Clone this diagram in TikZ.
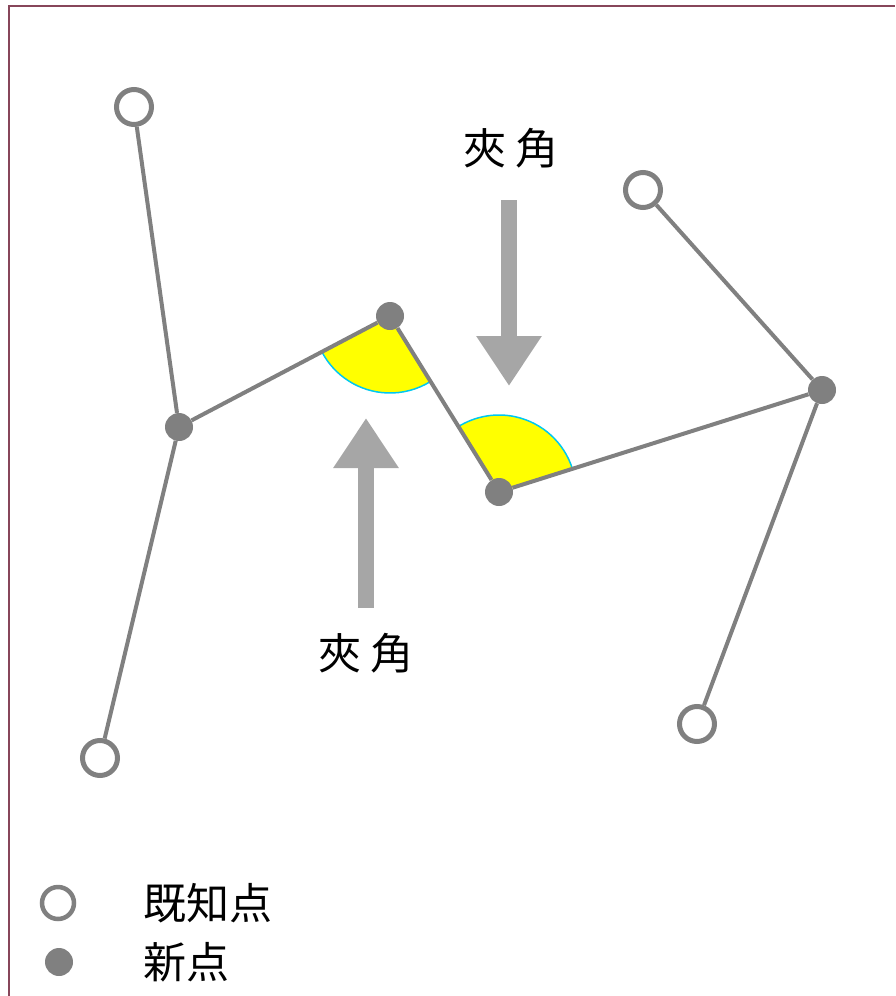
\documentclass[tikz,border=0pt]{standalone}
\usepackage{fontspec}
\newfontfamily\cjk{Noto Sans CJK JP}
\usetikzlibrary{arrows.meta,calc}
\definecolor{edgegray}{RGB}{128,128,128}
\definecolor{arrowgray}{RGB}{166,166,166}
\definecolor{framecol}{RGB}{135,70,90}
\definecolor{arccyan}{RGB}{0,200,240}
\definecolor{wedgeyellow}{RGB}{255,255,0}
\tikzset{
  known/.style={circle,draw=edgegray,line width=5pt,fill=white,minimum size=35pt,inner sep=0pt},
  newpt/.style={circle,fill=edgegray,minimum size=28pt,inner sep=0pt},
  edge/.style={draw=edgegray,line width=4pt},
  bigarrow/.style={draw=arrowgray,line width=16pt,-{Triangle[width=62pt,length=50pt]}},
  lbl/.style={font=\cjk\fontsize{43}{48}\selectfont,inner sep=0pt},
  wedge/.style={fill=wedgeyellow},
  wedgearc/.style={draw=arccyan,line width=1.5pt}
}
\begin{document}
\begin{tikzpicture}[x=1pt,y=-1pt]
\useasboundingbox (0,0) rectangle (895,996);
\draw[framecol,line width=2pt] (9,996) -- (9,6) -- (895,6);
% points
\coordinate (k1c) at (134,107);
\coordinate (n1c) at (179,427);
\coordinate (k2c) at (100,758);
\coordinate (n2c) at (390,316);
\coordinate (n3c) at (499,492);
\coordinate (n4c) at (822,390);
\coordinate (k3c) at (643,190);
\coordinate (k4c) at (697,724);
% wedges
\fill[wedge] let \p1=($(n1c)-(n2c)$), \p2=($(n3c)-(n2c)$), \n1={atan2(\y1,\x1)}, \n2={atan2(\y2,\x2)} in
  (n2c) -- ++(\n1:77pt) arc[start angle=\n1, end angle=\n2, radius=77pt] -- cycle;
\draw[wedgearc] let \p1=($(n1c)-(n2c)$), \p2=($(n3c)-(n2c)$), \n1={atan2(\y1,\x1)}, \n2={atan2(\y2,\x2)} in
  ($(n2c)+(\n1:77pt)$) arc[start angle=\n1, end angle=\n2, radius=77pt];
\fill[wedge] let \p1=($(n4c)-(n3c)$), \p2=($(n2c)-(n3c)$), \n1={atan2(\y1,\x1)}, \n2={atan2(\y2,\x2)} in
  (n3c) -- ++(\n1:77pt) arc[start angle=\n1, end angle=\n2, radius=77pt] -- cycle;
\draw[wedgearc] let \p1=($(n4c)-(n3c)$), \p2=($(n2c)-(n3c)$), \n1={atan2(\y1,\x1)}, \n2={atan2(\y2,\x2)} in
  ($(n3c)+(\n1:77pt)$) arc[start angle=\n1, end angle=\n2, radius=77pt];
% nodes
\node[known] (k1) at (k1c) {};
\node[known] (k2) at (k2c) {};
\node[known] (k3) at (k3c) {};
\node[known] (k4) at (k4c) {};
\node[newpt] (n1) at (n1c) {};
\node[newpt] (n2) at (n2c) {};
\node[newpt] (n3) at (n3c) {};
\node[newpt] (n4) at (n4c) {};
% edges
\draw[edge] (k1) -- (n1);
\draw[edge] (n1) -- (k2);
\draw[edge] (n1) -- (n2);
\draw[edge] (n2) -- (n3);
\draw[edge] (n3) -- (n4);
\draw[edge] (n4) -- (k3);
\draw[edge] (n4) -- (k4);
% arrows and labels
\coordinate (a1s) at (509,200);
\coordinate (a1e) at (509,386);
\coordinate (a2s) at (366,608);
\coordinate (a2e) at (366,418);
\draw[bigarrow] (a1s) -- (a1e);
\draw[bigarrow] (a2s) -- (a2e);
\node[lbl] (t1) at (511,148) {夾 角};
\node[lbl] (t2) at (366,653) {夾 角};
% legend
\node[known,minimum size=32pt,line width=4.5pt] (lk) at (58,903) {};
\node[newpt] (ln) at (59,962) {};
\node[lbl,anchor=west] (lkt) at (143,903) {既知点};
\node[lbl,anchor=west] (lnt) at (143,962) {新点};
\end{tikzpicture}
\end{document}
